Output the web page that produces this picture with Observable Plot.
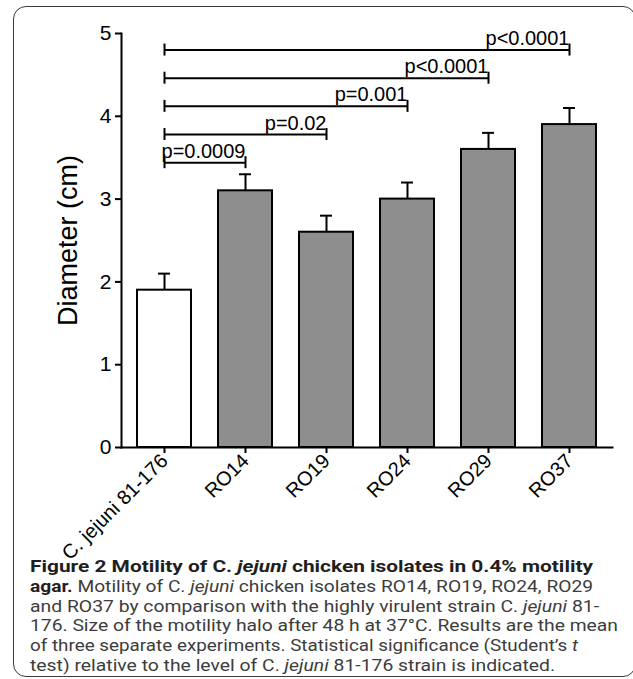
<!DOCTYPE html>
<html><head><meta charset="utf-8">
<script src="https://cdn.jsdelivr.net/npm/d3@7"></script>
<script src="https://cdn.jsdelivr.net/npm/@observablehq/plot@0.6"></script>
<style>
html,body{margin:0;padding:0;background:#fff;}
#wrap{position:relative;width:633px;height:679px;overflow:hidden;}
#box{position:absolute;left:13px;top:6px;width:623px;height:671px;border:1.6px solid #3a3a3a;border-radius:13px;box-sizing:border-box;}
#chart{position:absolute;left:0;top:0;}
#caption{position:absolute;left:30px;top:557px;width:600px;font-family:Roboto,sans-serif;font-size:17px;line-height:19.8px;color:#3c3c3c;white-space:nowrap;}
#caption b{color:#1f1f1f;}
#caption .ln{height:19.8px;}
#caption .ln span{display:inline-block;transform-origin:0 50%;}
</style></head>
<body>
<div id="wrap">
  <div id="box"></div>
  <div id="chart"></div>
  <div id="caption">
    <div class="ln" data-w="563"><span><b>Figure 2 Motility of C. <i>jejuni</i> chicken isolates in 0.4% motility</b></span></div>
    <div class="ln" data-w="563"><span><b>agar.</b> Motility of C. <i>jejuni</i> chicken isolates RO14, RO19, RO24, RO29</span></div>
    <div class="ln" data-w="569"><span>and RO37 by comparison with the highly virulent strain C. <i>jejuni</i> 81-</span></div>
    <div class="ln" data-w="588"><span>176. Size of the motility halo after 48 h at 37°C. Results are the mean</span></div>
    <div class="ln" data-w="548"><span>of three separate experiments. Statistical significance (Student’s <i>t</i></span></div>
    <div class="ln" data-w="525"><span>test) relative to the level of C. <i>jejuni</i> 81-176 strain is indicated.</span></div>
  </div>
</div>
<script>
const strains = ["C. jejuni 81-176", "RO14", "RO19", "RO24", "RO29", "RO37"];
const means = [1.9, 3.1, 2.6, 3.0, 3.6, 3.9];
const errors = [0.2, 0.2, 0.2, 0.2, 0.2, 0.2];
const groups = ["control", "isolate", "isolate", "isolate", "isolate", "isolate"];
const sigTargets = ["RO14", "RO19", "RO24", "RO29", "RO37"];
const sigLabels = ["p=0.0009", "p=0.02", "p=0.001", "p<0.0001", "p<0.0001"];
const sigLevels = [3.44, 3.78, 4.12, 4.46, 4.80];
const yTicks = [0, 1, 2, 3, 4, 5];

const bars = strains.map((s, i) => ({strain: s, mean: means[i], top: means[i] + errors[i], group: groups[i]}));
const sig = sigTargets.map((t, i) => ({from: strains[0], to: t, level: sigLevels[i], label: sigLabels[i]}));

const chart = Plot.plot({
  width: 633,
  height: 553,
  marginLeft: 121,
  marginRight: 21,
  marginTop: 33,
  marginBottom: 106,
  style: {fontFamily: "'Liberation Sans', Arial, sans-serif", background: "transparent", color: "#000", overflow: "visible"},
  x: {domain: strains, paddingInner: 0.33, paddingOuter: 0.165, label: null},
  y: {domain: [0, 5], label: null},
  color: {domain: ["control", "isolate"], range: ["#ffffff", "#8e8e8e"]},
  marks: [
    Plot.ruleX(bars, {x: "strain", y1: "mean", y2: "top", stroke: "#000", strokeWidth: 2}),
    Plot.tickY(bars, {x: "strain", y: "top", stroke: "#000", strokeWidth: 2, insetLeft: 21, insetRight: 21}),
    Plot.barY(bars, {x: "strain", y: "mean", fill: "group", stroke: "#000", strokeWidth: 2}),
    Plot.link(sig, {x1: "from", x2: "to", y1: "level", y2: "level", stroke: "#000", strokeWidth: 2}),
    Plot.ruleX(sig, {x: "from", y1: "level", y2: "level", insetTop: 6, insetBottom: 6, stroke: "#000", strokeWidth: 2}),
    Plot.ruleX(sig, {x: "to", y1: "level", y2: "level", insetTop: 6, insetBottom: 6, stroke: "#000", strokeWidth: 2}),
    Plot.text(sig, {x: "to", y: "level", text: "label", textAnchor: "end", lineAnchor: "bottom", dy: -5, fontSize: 20, fill: "#000"}),
    Plot.axisY({ticks: yTicks, tickSize: 6, tickPadding: 4, fontSize: 21, tickFormat: d3.format("d"), stroke: "#000", strokeWidth: 2, label: null}),
    Plot.axisX({tickSize: 6, tickRotate: -45, tickPadding: 4, fontSize: 20, stroke: "#000", strokeWidth: 2, label: null}),
    Plot.frame({anchor: "left", stroke: "#000", strokeWidth: 2}),
    Plot.frame({anchor: "bottom", stroke: "#000", strokeWidth: 2}),
    Plot.text(["Diameter (cm)"], {frameAnchor: "left", textAnchor: "middle", rotate: -90, dx: -53, fontSize: 27, fill: "#000"})
  ]
});
document.getElementById("chart").appendChild(chart);

// stretch each caption line horizontally to the width it has in the figure
for (const ln of document.querySelectorAll("#caption .ln")) {
  const span = ln.querySelector("span");
  const w = span.getBoundingClientRect().width;
  span.style.transform = `scaleX(${(+ln.dataset.w) / w})`;
}
</script>
</body></html>
